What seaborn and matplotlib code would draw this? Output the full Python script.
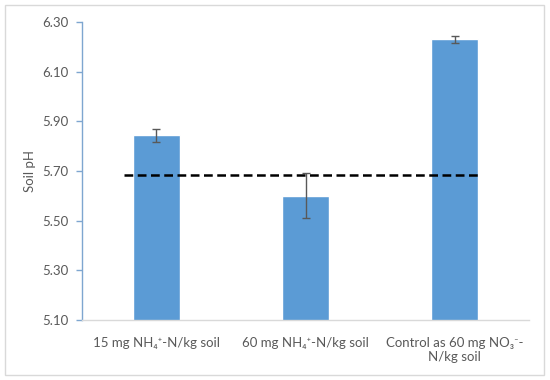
import pandas as pd
import seaborn as sns
import matplotlib
matplotlib.use('Agg')
import matplotlib.pyplot as plt
from matplotlib.patches import Rectangle

# data
treatments = ['15 mg NH\u2084\u207a-N/kg soil',
              '60 mg NH\u2084\u207a-N/kg soil',
              'Control as 60 mg NO\u2083\u207b-\nN/kg soil']
soil_ph = [5.843, 5.600, 6.230]
soil_ph_err = [0.026, 0.090, 0.014]
baseline_ph = 5.684
y_ticks = [5.10, 5.30, 5.50, 5.70, 5.90, 6.10, 6.30]

df = pd.DataFrame({'treatment': treatments, 'ph': soil_ph, 'err': soil_ph_err})

sns.set_theme(style="white")
plt.rcParams['font.family'] = ['Lato', 'DejaVu Sans']

fig = plt.figure(figsize=(5.5, 3.8), dpi=100)
ax = fig.add_axes([0.149, 0.158, 0.813, 0.784])

# light frame around the whole chart, like an Excel chart area
fig.patches.append(Rectangle((0.009, 0.013), 0.98, 0.974, transform=fig.transFigure,
                             fill=False, edgecolor='#d9d9d9', linewidth=1.0))

sns.barplot(data=df, x='treatment', y='ph', color='#5b9bd5', saturation=1,
            width=0.315, errorbar=None, ax=ax)
ax.errorbar(range(len(df)), df['ph'], yerr=df['err'], fmt='none',
            ecolor='#595959', elinewidth=1.0, capsize=3, capthick=1.0)

# dashed reference line
ax.plot([-0.22, 2.17], [baseline_ph, baseline_ph], color='black',
        linestyle=(0, (3.5, 1.8)), linewidth=1.8)

ax.set_ylim(5.10, 6.30)
ax.set_xlim(-0.5, 2.5)
ax.set_yticks(y_ticks)
ax.set_yticklabels([f'{v:.2f}' for v in y_ticks])

ax.set_xlabel('')
ax.set_ylabel('Soil pH', fontsize=9.5, color='#595959', labelpad=4)
ax.tick_params(axis='y', labelsize=9.5, labelcolor='#595959', left=True,
               length=4, color='#7ea6d0', width=1.0, pad=6)
ax.tick_params(axis='x', labelsize=9.5, labelcolor='#595959', bottom=False, pad=6)

for side in ['top', 'right']:
    ax.spines[side].set_visible(False)
ax.spines['left'].set_color('#7ea6d0')
ax.spines['left'].set_linewidth(1.0)
ax.spines['bottom'].set_color('#d9d9d9')
ax.spines['bottom'].set_linewidth(1.0)

fig.savefig('out.png', dpi=100)
